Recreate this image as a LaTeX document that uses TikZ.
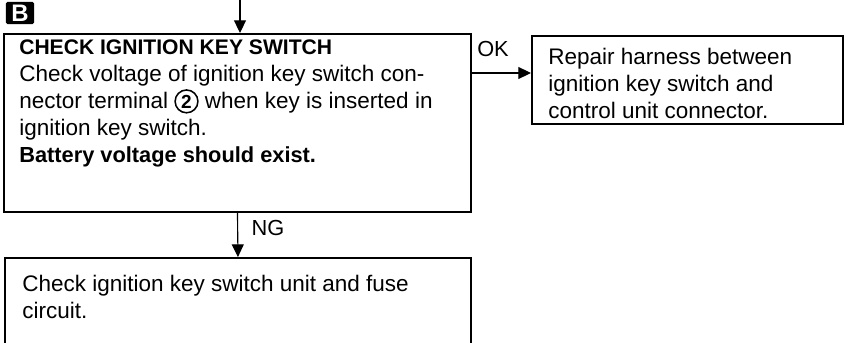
\documentclass[tikz,border=0pt]{standalone}
\usepackage{fontspec}
\setmainfont{Liberation Sans}
\usetikzlibrary{arrows.meta,positioning}

\tikzset{
  box/.style={draw, line width=1.3pt, anchor=north west, inner sep=0pt},
  txt/.style={anchor=north west, align=left, inner sep=0pt, font=\fontsize{16}{19.2}\selectfont},
  flow/.style={-{Triangle[width=8.5pt,length=9pt]}, line width=0.8pt},
  lbl/.style={inner sep=0pt, font=\fontsize{15.5}{18}\selectfont}
}
\newcommand{\cnum}[1]{\tikz[baseline=(n.base)]\node[circle, draw, line width=1.1pt, inner sep=1.5pt, font=\bfseries\fontsize{13.5}{13.5}\selectfont] (n) {#1};}
\newcommand{\hd}[1]{{\bfseries\fontsize{15}{19.2}\selectfont #1}}
\newcommand{\bd}[1]{{\bfseries\fontsize{15.5}{19.2}\selectfont #1}}

\begin{document}
\begin{tikzpicture}[x=0.025cm, y=-0.025cm]
    \useasboundingbox (0,0) rectangle (851,343);

    % badge
    \node[fill=black, text=white, rounded corners=1pt, inner sep=0pt, minimum width=0.7cm, minimum height=0.55cm,
          font=\bfseries\fontsize{17}{17}\selectfont] (badge) at (20,13) {B};

    % boxes
    \node[box, minimum width=11.675cm, minimum height=4.45cm] (main) at (3,33) {};
    \node[box, minimum width=7.775cm, minimum height=2.2cm] (repair) at (531,35) {};
    \node[box, minimum width=11.65cm, minimum height=2.5cm] (fuse) at (4,257) {};

    % texts
    \node[txt] (maintxt) at (19,39) {\hd{CHECK IGNITION KEY SWITCH}\\
        Check voltage of ignition key switch con-\\
        nector terminal \cnum{2} when key is inserted in\\
        ignition key switch.\\
        \bd{Battery voltage should exist.}};
    \node[txt] (repairtxt) at (548,48) {Repair harness between\\
        ignition key switch and\\
        control unit connector.};
    \node[txt] (fusetxt) at (22,275) {Check ignition key switch unit and fuse\\
        circuit.};

    % arrows
    \coordinate (src) at (240,0);
    \draw[flow] (src) -- (src |- main.north);
    \draw[flow] (main.east |- 0,73) -- (repair.west |- 0,73);
    \draw[flow] (main.south) -- (fuse.north);

    % labels
    \node[lbl] (ok) at (493,49) {OK};
    \node[lbl] (ng) at (268,228) {NG};
\end{tikzpicture}
\end{document}
